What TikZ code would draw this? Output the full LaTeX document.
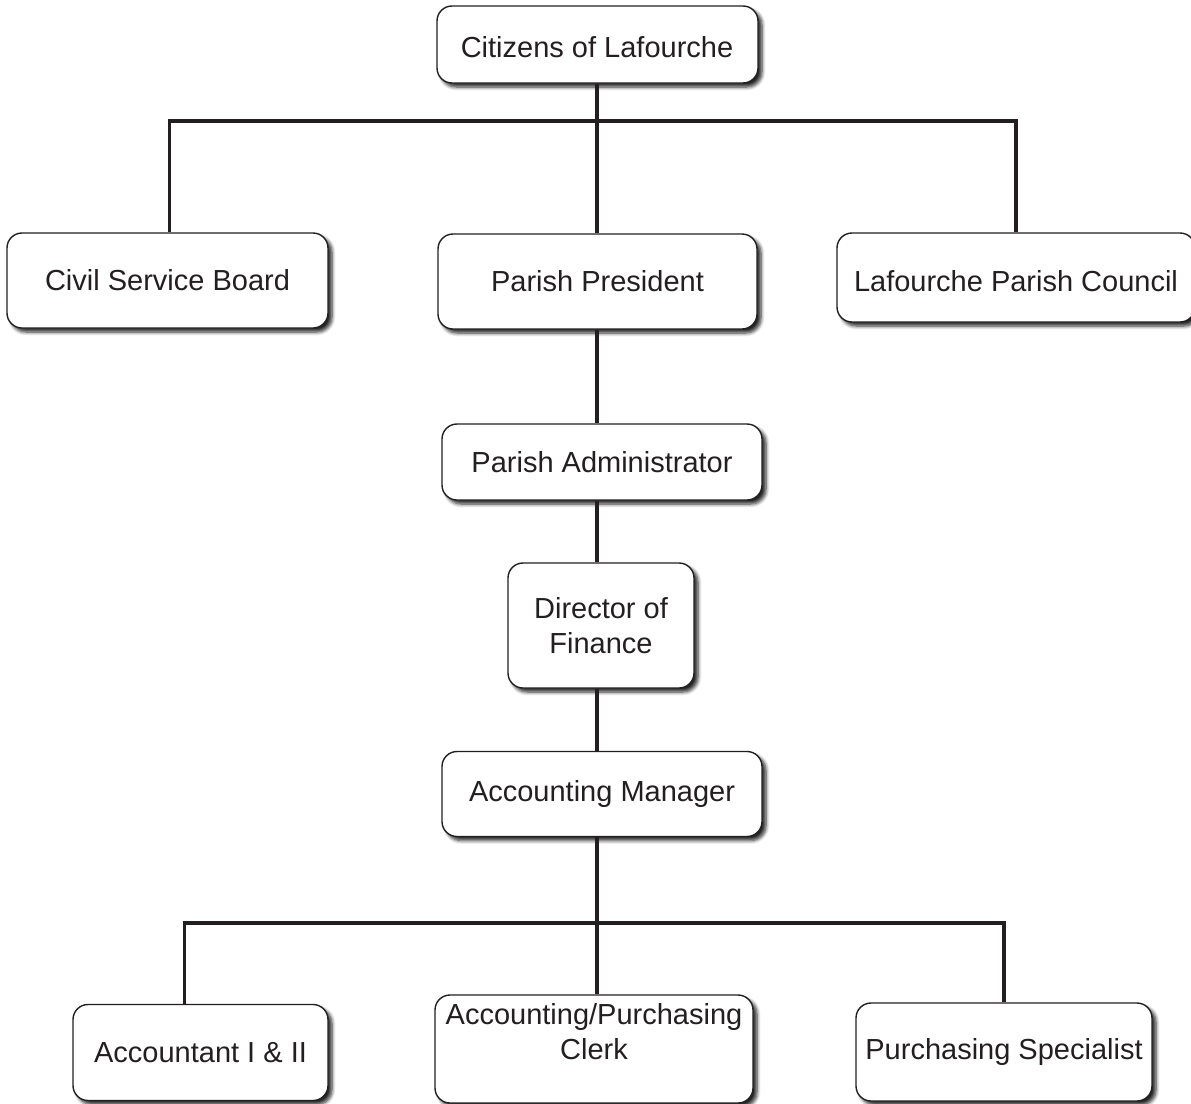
\documentclass[tikz,border=0pt]{standalone}
\usepackage{fontspec}
\setmainfont{Liberation Sans}
\usetikzlibrary{shadows.blur}
\definecolor{ink}{HTML}{231F20}
\tikzset{
  orgbox/.style={draw=ink, line width=1.4pt, fill=white, rounded corners=15pt,
    inner sep=0pt, align=center, text=ink,
    font=\fontsize{29}{35}\selectfont,
    blur shadow={shadow xshift=4pt, shadow yshift=-4pt, shadow blur radius=3.5pt,
      shadow blur steps=6, shadow opacity=85}},
  orgtext/.style={inner sep=0pt, align=center, text=ink, font=\fontsize{29}{35}\selectfont},
  link/.style={draw=ink, line width=3.2pt}
}
\begin{document}
\begin{tikzpicture}[x=1pt, y=-1pt]
\useasboundingbox (0,0) rectangle (1191,1103);
\coordinate (j1) at (597,121);
\coordinate (j2) at (597,923);
% boxes
\node[orgbox, minimum width=321pt, minimum height=77pt] (cit) at (597.5,44.5) {};
\node[orgtext] (citt) at (597,47) {Citizens of Lafourche};
\node[orgbox, minimum width=321pt, minimum height=95pt] (csb) at (167.5,280.5) {Civil Service Board};
\node[orgbox, minimum width=319pt, minimum height=95pt] (pp) at (597.5,281.5) {Parish President};
\node[orgbox, minimum width=358pt, minimum height=89pt] (lpc) at (1016,277.5) {};
\node[orgtext] (lpct) at (1016,281) {Lafourche Parish Council};
\node[orgbox, minimum width=320pt, minimum height=76pt] (adm) at (602,462) {Parish Administrator};
\node[orgbox, minimum width=186pt, minimum height=125pt] (dof) at (601,625.5) {Director of\\Finance};
\node[orgbox, minimum width=320pt, minimum height=85pt] (mgr) at (602,794) {Accounting Manager};
\node[orgbox, minimum width=255pt, minimum height=96pt] (acc) at (200.5,1052.5) {Accountant I \& II};
\node[orgbox, minimum width=318pt, minimum height=108pt] (clerk) at (594,1049) {};
\node[orgtext] (clerkt) at (594,1032) {Accounting/Purchasing\\Clerk};
\node[orgbox, minimum width=296pt, minimum height=98pt] (spec) at (1004,1052) {Purchasing Specialist};
% connectors
\path[link] (cit.south -| j1) -- (pp.north -| j1);
\path[link] ([xshift=2pt]csb.north) |- (j1) -| (lpc.north);
\path[link] (pp.south -| j1) -- (adm.north -| j1);
\path[link] (adm.south -| j1) -- (dof.north -| j1);
\path[link] (dof.south -| j1) -- (mgr.north -| j1);
\path[link] (mgr.south -| j2) -- (clerk.north -| j2);
\path[link] ([xshift=-16pt]acc.north) |- (j2) -| (spec.north);
\end{tikzpicture}
\end{document}
